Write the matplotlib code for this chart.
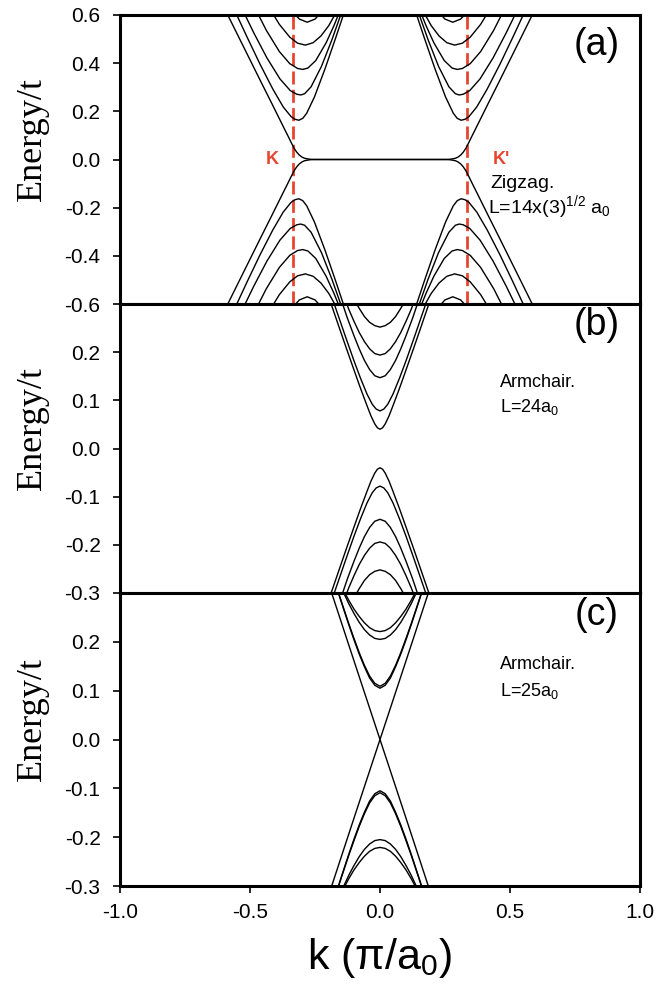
import matplotlib
matplotlib.use('Agg')
import matplotlib.pyplot as plt
from matplotlib.ticker import FormatStrFormatter

plt.rcParams['font.family'] = ['Liberation Sans', 'DejaVu Sans']
plt.rcParams['axes.unicode_minus'] = False
plt.rcParams['mathtext.fontset'] = 'custom'
plt.rcParams['mathtext.rm'] = 'Liberation Sans'
plt.rcParams['mathtext.it'] = 'Liberation Sans:italic'

# ---- panel (a): zigzag ribbon, bands around the K valley (K' is the mirror image)
k_valleys = [-1/3, 1/3]

edge_k = [-0.62, -0.58, -0.54, -0.50, -0.46, -0.42, -0.38, -0.355, -0.34,
          -0.33, -0.32, -0.31, -0.30, -0.29, -0.275, -0.26]
edge_E = [0.675, 0.588, 0.501, 0.414, 0.327, 0.241, 0.154, 0.100, 0.067,
          0.046, 0.030, 0.018, 0.010, 0.005, 0.002, 0.0]

zz1_k = [-0.562, -0.512, -0.462, -0.412, -0.372, -0.342, -0.327, -0.312,
         -0.297, -0.282, -0.252, -0.212, -0.172, -0.132]
zz1_E = [0.626, 0.510, 0.397, 0.292, 0.218, 0.178, 0.167, 0.163,
         0.171, 0.192, 0.260, 0.375, 0.500, 0.629]
zz2_k = [-0.535, -0.485, -0.435, -0.385, -0.345, -0.32, -0.305, -0.29,
         -0.265, -0.225, -0.185, -0.145]
zz2_E = [0.636, 0.525, 0.422, 0.335, 0.286, 0.271, 0.268, 0.273,
         0.302, 0.387, 0.497, 0.619]
zz3_k = [-0.487, -0.437, -0.387, -0.347, -0.317, -0.297, -0.277, -0.247,
         -0.207, -0.177, -0.147]
zz3_E = [0.642, 0.536, 0.448, 0.398, 0.378, 0.374, 0.380, 0.411,
         0.485, 0.556, 0.636]
zz4_k = [-0.427, -0.387, -0.347, -0.317, -0.287, -0.257, -0.227, -0.197, -0.157]
zz4_E = [0.632, 0.561, 0.508, 0.483, 0.475, 0.485, 0.513, 0.556, 0.633]
zz5_k = [-0.34, -0.31, -0.28, -0.25, -0.22]
zz5_E = [0.618, 0.583, 0.570, 0.583, 0.618]

# ---- panel (b): armchair L=24a0, half bands for k >= 0 (symmetric)
ac24_1_k = [0, 0.01, 0.02, 0.035, 0.05, 0.075, 0.10, 0.13, 0.16, 0.20]
ac24_1_E = [0.040, 0.043, 0.051, 0.068, 0.089, 0.125, 0.163, 0.209, 0.256, 0.319]
ac24_2_k = [0, 0.015, 0.03, 0.05, 0.075, 0.10, 0.13, 0.16, 0.19]
ac24_2_E = [0.078, 0.082, 0.092, 0.113, 0.146, 0.182, 0.228, 0.275, 0.322]
ac24_3_k = [0, 0.02, 0.04, 0.06, 0.08, 0.10, 0.125, 0.15]
ac24_3_E = [0.147, 0.151, 0.164, 0.183, 0.207, 0.234, 0.270, 0.310]
ac24_4_k = [0, 0.02, 0.04, 0.06, 0.08, 0.10, 0.12, 0.14]
ac24_4_E = [0.194, 0.197, 0.207, 0.222, 0.241, 0.264, 0.289, 0.317]
ac24_5_k = [0, 0.02, 0.04, 0.06, 0.08, 0.10]
ac24_5_E = [0.252, 0.255, 0.262, 0.274, 0.291, 0.310]

# ---- panel (c): armchair L=25a0 (metallic)
lin_k = [0, 0.10, 0.20]
lin_E = [0, 0.161, 0.323]
ac25_1_k = [0, 0.02, 0.04, 0.06, 0.08, 0.10, 0.12, 0.14, 0.16, 0.18]
ac25_1_E = [0.105, 0.111, 0.126, 0.149, 0.175, 0.204, 0.235, 0.267, 0.300, 0.333]
ac25_2_k = [0, 0.02, 0.04, 0.06, 0.08, 0.10, 0.12, 0.14, 0.16, 0.18]
ac25_2_E = [0.109, 0.115, 0.130, 0.152, 0.178, 0.207, 0.237, 0.269, 0.301, 0.334]
ac25_3_k = [0, 0.02, 0.04, 0.06, 0.08, 0.10, 0.12, 0.15]
ac25_3_E = [0.205, 0.207, 0.214, 0.225, 0.240, 0.258, 0.278, 0.312]
ac25_4_k = [0, 0.02, 0.04, 0.06, 0.08, 0.10, 0.12, 0.14]
ac25_4_E = [0.221, 0.223, 0.229, 0.239, 0.252, 0.267, 0.285, 0.305]

yt_a = [-0.6, -0.4, -0.2, 0.0, 0.2, 0.4, 0.6]
yt_bc = [-0.3, -0.2, -0.1, 0.0, 0.1, 0.2]
xt = [-1.0, -0.5, 0.0, 0.5, 1.0]

LW = 1.0
RED = '#e8452f'


def both_signs(ax, k, E, mirror=False):
    ks = [k, [-v for v in k]] if mirror else [k]
    for kk in ks:
        ax.plot(kk, E, color='black', lw=LW)
        ax.plot(kk, [-e for e in E], color='black', lw=LW)


def sym_band(k, E):
    # half band (k>=0) -> full band
    kk = [-v for v in k[::-1]] + list(k[1:])
    ee = list(E[::-1]) + list(E[1:])
    return kk, ee


fig = plt.figure(figsize=(6.59, 9.94), dpi=100)
left = 120 / 659
width = 520 / 659
ax_a = fig.add_axes([left, (994 - 304) / 994, width, 289 / 994])
ax_b = fig.add_axes([left, (994 - 593) / 994, width, 289 / 994])
ax_c = fig.add_axes([left, (994 - 886) / 994, width, 293 / 994])

# panel (a)
for kv in k_valleys:
    ax_a.axvline(kv, color=RED, lw=2.0, ls=(0, (4.7, 1.9)), zorder=1)
ek = edge_k + [-v for v in edge_k[::-1]]
ee = edge_E + edge_E[::-1]
ax_a.plot(ek, ee, color='black', lw=LW, zorder=2)
ax_a.plot(ek, [-e for e in ee], color='black', lw=LW, zorder=2)
for k, E in [(zz1_k, zz1_E), (zz2_k, zz2_E), (zz3_k, zz3_E),
             (zz4_k, zz4_E), (zz5_k, zz5_E)]:
    both_signs(ax_a, k, E, mirror=True)

# panel (b)
for k, E in [(ac24_1_k, ac24_1_E), (ac24_2_k, ac24_2_E), (ac24_3_k, ac24_3_E),
             (ac24_4_k, ac24_4_E), (ac24_5_k, ac24_5_E)]:
    both_signs(ax_b, *sym_band(k, E))

# panel (c)
lk, le = sym_band(lin_k, lin_E)
ax_c.plot(lk, le, color='black', lw=LW)
ax_c.plot(lk, [-e for e in le], color='black', lw=LW)
for k, E in [(ac25_1_k, ac25_1_E), (ac25_2_k, ac25_2_E),
             (ac25_3_k, ac25_3_E), (ac25_4_k, ac25_4_E)]:
    both_signs(ax_c, *sym_band(k, E))

ax_a.set_ylim(-0.6, 0.6)
ax_a.set_yticks(yt_a)
ax_b.set_ylim(-0.3, 0.3)
ax_b.set_yticks(yt_bc)
ax_c.set_ylim(-0.3, 0.3)
ax_c.set_yticks(yt_bc)

for ax in (ax_a, ax_b, ax_c):
    ax.set_xlim(-1, 1)
    ax.set_xticks(xt)
    for s in ax.spines.values():
        s.set_linewidth(2.2)
        s.set_zorder(5)
    ax.tick_params(direction='out', length=5, width=1.2, labelsize=15,
                   top=False, right=False)
    ax.tick_params(axis='y', pad=9)
    ax.tick_params(axis='x', pad=7)
    ax.yaxis.set_major_formatter(FormatStrFormatter('%.1f'))
    ax.xaxis.set_major_formatter(FormatStrFormatter('%.1f'))
    ax.set_ylabel('Energy/t', family='Liberation Serif', fontsize=26)
    ax.yaxis.set_label_coords(-0.136, 0.57)

for ax in (ax_a, ax_b):
    ax.tick_params(bottom=False, labelbottom=False)

ax_c.set_xlabel('k (π/a$_0$)', fontsize=31, labelpad=10)

# annotations
ax_a.text(0.917, 0.896, '(a)', transform=ax_a.transAxes, fontsize=27,
          ha='center', va='center')
ax_b.text(0.917, 0.927, '(b)', transform=ax_b.transAxes, fontsize=27,
          ha='center', va='center')
ax_c.text(0.917, 0.925, '(c)', transform=ax_c.transAxes, fontsize=27,
          ha='center', va='center')

ax_a.text(-0.415, 0.0, 'K', color=RED, fontsize=13, fontweight='bold',
          ha='center', va='center')
ax_a.text(0.465, 0.0, "K'", color=RED, fontsize=13, fontweight='bold',
          ha='center', va='center')
ax_a.text(0.423, -0.098, 'Zigzag.', fontsize=14, ha='left', va='center')
ax_a.text(0.415, -0.197, 'L=14x(3)$^{1/2}$ a$_0$', fontsize=14,
          ha='left', va='center')

ax_b.text(0.46, 0.137, 'Armchair.', fontsize=13, ha='left', va='center')
ax_b.text(0.46, 0.087, 'L=24a$_0$', fontsize=13, ha='left', va='center')
ax_c.text(0.46, 0.153, 'Armchair.', fontsize=13, ha='left', va='center')
ax_c.text(0.46, 0.100, 'L=25a$_0$', fontsize=13, ha='left', va='center')

fig.savefig('out.png', dpi=100)
